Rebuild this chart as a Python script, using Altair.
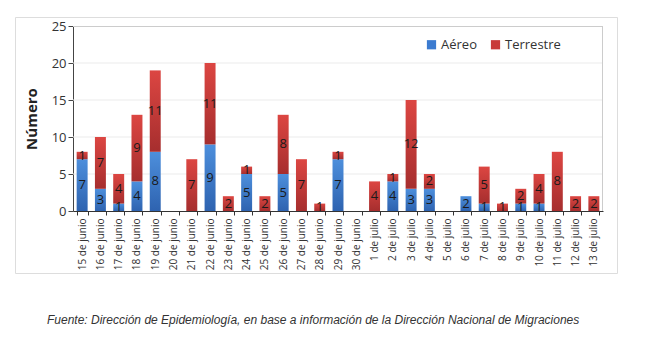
import altair as alt
import pandas as pd

fechas = ["15 de junio", "16 de junio", "17 de junio", "18 de junio", "19 de junio",
          "20 de junio", "21 de junio", "22 de junio", "23 de junio", "24 de junio",
          "25 de junio", "26 de junio", "27 de junio", "28 de junio", "29 de junio",
          "30 de junio", "1 de julio", "2 de julio", "3 de julio", "4 de julio",
          "5 de julio", "6 de julio", "7 de julio", "8 de julio", "9 de julio",
          "10 de julio", "11 de julio", "12 de julio", "13 de julio"]
aereo = [7, 3, 1, 4, 8, 0, 0, 9, 0, 5, 0, 5, 0, 0, 7, 0, 0, 4, 3, 3, 0, 2, 1, 0, 1, 1, 0, 0, 0]
terrestre = [1, 7, 4, 9, 11, 0, 7, 11, 2, 1, 2, 8, 7, 1, 1, 0, 4, 1, 12, 2, 0, 0, 5, 1, 2, 4, 8, 2, 2]
y_ticks = [0, 5, 10, 15, 20, 25]
grid_values = [5, 10, 15, 20]
series = ["Aéreo", "Terrestre"]
series_colors = ["#3b7bd0", "#c83a38"]
caption = "Fuente: Dirección de Epidemiología, en base a información de la Dirección Nacional de Migraciones"

df = pd.DataFrame({"fecha": fechas, "aereo": aereo, "terrestre": terrestre})
df["total"] = df["aereo"] + df["terrestre"]
df["mid_a"] = df["aereo"] / 2
df["mid_t"] = df["aereo"] + df["terrestre"] / 2
grid_df = pd.DataFrame({"v": grid_values})

FONT = "Open Sans"

# view = outer frame box; plot area sits inside it
W, H = 602, 256
PX0, PX1 = 58, 588
PY0, PY1 = 9, 194

x_enc = alt.X(
    "fecha:N", sort=fechas,
    scale=alt.Scale(range=[PX0, PX1], paddingInner=0.4, paddingOuter=0.2),
    axis=alt.Axis(title=None, labelAngle=270, tickBand="extent", labelFont=FONT,
                  labelFontSize=10, labelColor="#333333", labelPadding=3,
                  tickSize=4, tickColor="#333333", domainColor="#333333", grid=False,
                  offset=-(H - PY1)),
)
y_axis = alt.Axis(values=y_ticks, title="Número", titleFont=FONT, titleFontSize=15,
                  titleFontWeight="bold", titleColor="#222222", titlePadding=12,
                  labelFont=FONT, labelFontSize=13, labelColor="#333333", labelPadding=2,
                  tickSize=5, tickColor="#444444", domainColor="#444444",
                  grid=False, offset=-PX0)
y_scale = alt.Scale(domain=[0, 25], range=[PY1, PY0], nice=False)

blue_grad = alt.Gradient(gradient="linear", x1=0, x2=0, y1=0, y2=1,
                         stops=[alt.GradientStop(color="#4d8fdc", offset=0),
                                alt.GradientStop(color="#2e63b0", offset=1)])
red_grad = alt.Gradient(gradient="linear", x1=0, x2=0, y1=0, y2=1,
                        stops=[alt.GradientStop(color="#dc4642", offset=0),
                               alt.GradientStop(color="#a62e2e", offset=1)])

base = alt.Chart(df)

grid = alt.Chart(grid_df).mark_rule(color="#ebebeb", strokeWidth=1).encode(
    y=alt.Y("v:Q", scale=y_scale, axis=y_axis),
    x=alt.value(PX0), x2=alt.value(PX1),
)

bars_a = base.transform_filter("datum.aereo > 0").mark_bar(color=blue_grad).encode(
    x=x_enc,
    y=alt.Y("aereo:Q", scale=y_scale, axis=y_axis),
)
bars_t = base.transform_filter("datum.terrestre > 0").mark_bar(color=red_grad).encode(
    x=x_enc,
    y=alt.Y("total:Q", scale=y_scale, axis=y_axis),
    y2="aereo:Q",
)

legend_layer = base.transform_fold(["aereo", "terrestre"], as_=["key", "value"]).transform_calculate(
    tipo="datum.key == 'aereo' ? 'Aéreo' : 'Terrestre'"
).mark_bar(opacity=0).encode(
    x=x_enc,
    y=alt.Y("value:Q", scale=y_scale, axis=y_axis, stack="zero"),
    color=alt.Color("tipo:N", scale=alt.Scale(domain=series, range=series_colors),
                    legend=alt.Legend(title=None, orient="none", legendX=410, legendY=21,
                                      direction="horizontal", symbolType="square",
                                      symbolSize=85, symbolOpacity=1, symbolStrokeWidth=0,
                                      labelFont=FONT, labelFontSize=13, labelColor="#333333",
                                      labelOffset=3, columnPadding=12)),
)

text_a = base.transform_filter("datum.aereo > 0").mark_text(
    font=FONT, fontSize=13, color="#1a1a1a", baseline="middle"
).encode(x=x_enc, y=alt.Y("mid_a:Q", scale=y_scale, axis=y_axis), text="aereo:Q")
text_t = base.transform_filter("datum.terrestre > 0").mark_text(
    font=FONT, fontSize=13, color="#1a1a1a", baseline="middle"
).encode(x=x_enc, y=alt.Y("mid_t:Q", scale=y_scale, axis=y_axis), text="terrestre:Q")

one = alt.Chart(pd.DataFrame({"f": [0]}))
plot_top = one.mark_rule(color="#cccccc", strokeWidth=1).encode(
    x=alt.value(PX0), x2=alt.value(PX1), y=alt.value(PY0 + 0.5))
plot_right = one.mark_rule(color="#cccccc", strokeWidth=1).encode(
    x=alt.value(PX1 - 0.5), y=alt.value(PY0), y2=alt.value(PY1))

chart = alt.layer(
    grid, plot_top, plot_right, legend_layer, bars_a, bars_t, text_a, text_t
).properties(
    width=W, height=H,
    autosize=alt.AutoSizeParams(type="none"),
    padding={"left": 15, "top": 17, "right": 36, "bottom": 70},
    title=alt.TitleParams(caption, orient="bottom", anchor="start", frame="group",
                          font="Liberation Sans", fontSize=12, fontStyle="italic",
                          fontWeight="normal", color="#333333", dx=32, offset=42),
).configure_view(
    stroke="#a8a8a8", strokeDash=[W + H, W, H]
).configure(background="white")

chart.save("out.html", embed_options={"renderer": "svg", "actions": False})
